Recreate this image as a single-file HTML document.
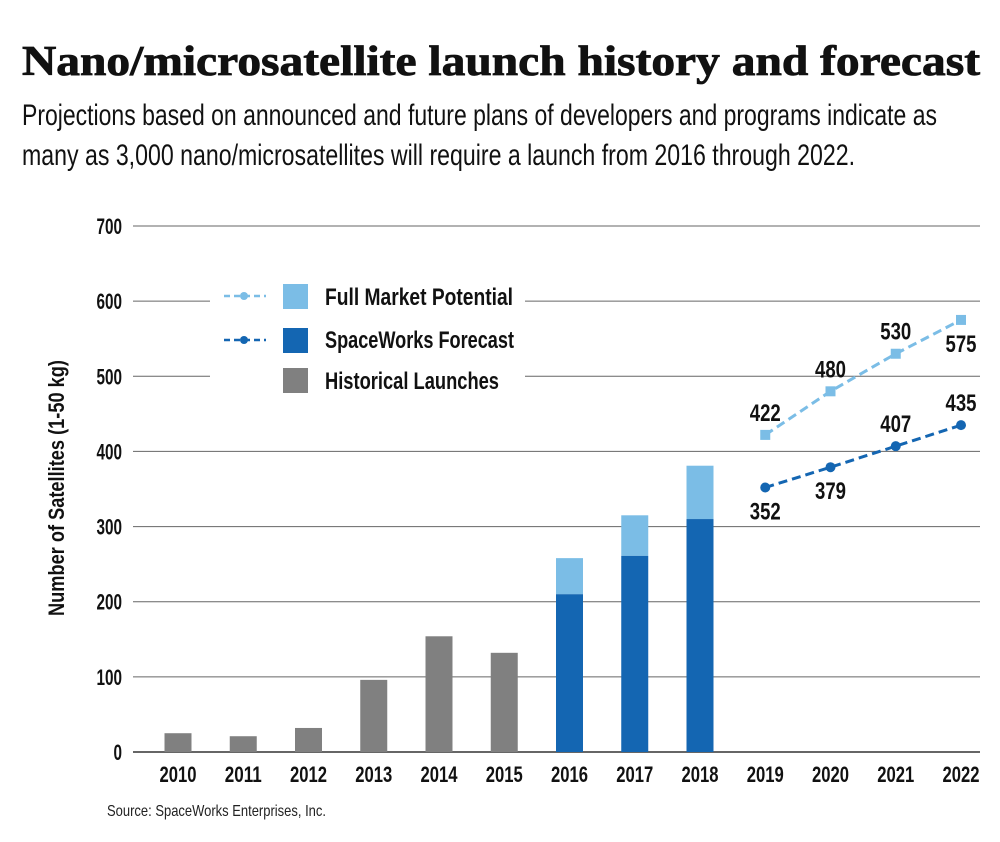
<!DOCTYPE html>
<html><head><meta charset="utf-8"><style>
html,body{margin:0;padding:0;background:#fff;}
svg{display:block;}
.c{font-family:"Liberation Sans Narrow","Liberation Sans",sans-serif;}
</style></head><body>
<svg id="chart" width="1000" height="842" viewBox="0 0 1000 842">
<text x="22" y="75" font-family="'Liberation Serif',serif" font-weight="bold" font-size="42" textLength="958" lengthAdjust="spacingAndGlyphs" fill="#111" stroke="#111" stroke-width="0.8">Nano/microsatellite launch history and forecast</text>
<text class="c" x="22" y="125" font-size="30" textLength="915" lengthAdjust="spacingAndGlyphs" fill="#111">Projections based on announced and future plans of developers and programs indicate as</text>
<text class="c" x="22" y="165" font-size="30" textLength="833" lengthAdjust="spacingAndGlyphs" fill="#111">many as 3,000 nano/microsatellites will require a launch from 2016 through 2022.</text>
<g id="grid"></g>
<g id="bars"></g>
<g id="lines"></g>
<rect x="210" y="280" width="315" height="115" fill="#fff"/>
<g class="c" font-weight="bold" font-size="24" fill="#111">
 <g>
  <line x1="224" y1="296" x2="266" y2="296" stroke="#7bbde6" stroke-width="2.5" stroke-dasharray="6,4"/>
  <circle cx="244" cy="296" r="4" fill="#7bbde6"/>
  <rect x="283" y="284" width="25" height="25" fill="#7bbde6"/>
  <text x="325" y="305" textLength="188" lengthAdjust="spacingAndGlyphs">Full Market Potential</text>
 </g>
 <g>
  <line x1="224" y1="340" x2="266" y2="340" stroke="#1466b2" stroke-width="2.5" stroke-dasharray="6,4"/>
  <circle cx="244" cy="340" r="4" fill="#1466b2"/>
  <rect x="283" y="328" width="25" height="25" fill="#1466b2"/>
  <text x="325" y="348" textLength="189" lengthAdjust="spacingAndGlyphs">SpaceWorks Forecast</text>
 </g>
 <g>
  <rect x="283" y="368" width="25" height="25" fill="#808080"/>
  <text x="325" y="389" textLength="174" lengthAdjust="spacingAndGlyphs">Historical Launches</text>
 </g>
</g>
<text class="c" font-weight="bold" font-size="22" fill="#111" transform="translate(64,488) rotate(-90)" text-anchor="middle" textLength="256" lengthAdjust="spacingAndGlyphs">Number of Satellites (1-50 kg)</text>
<text class="c" x="107" y="816" font-size="16" fill="#222" textLength="219" lengthAdjust="spacingAndGlyphs">Source: SpaceWorks Enterprises, Inc.</text>
</svg>
<script>
const years=['2010','2011','2012','2013','2014','2015','2016','2017','2018','2019','2020','2021','2022'];
const historical=[25,21,32,96,154,132,0,0,0,0,0,0,0];
const forecastBars=[0,0,0,0,0,0,210,261,310,0,0,0,0];
const potentialBars=[0,0,0,0,0,0,258,315,381,0,0,0,0];
const lineYears=['2019','2020','2021','2022'];
const fullMarket=[422,480,530,575];
const spaceWorks=[352,379,407,435];
const yTicks=[0,100,200,300,400,500,600,700];
const NS='http://www.w3.org/2000/svg';
const y0=752,yScale=526/700;
function Y(v){return y0-v*yScale;}
function X(yr){return 178+years.indexOf(yr)*65.25;}
function mk(t,a,p){const e=document.createElementNS(NS,t);for(const k in a)e.setAttribute(k,a[k]);p.appendChild(e);return e;}
const grid=document.getElementById('grid'),bars=document.getElementById('bars'),lines=document.getElementById('lines');
yTicks.forEach(v=>{
 const l=mk('line',{x1:133,x2:980,y1:Y(v),y2:Y(v),stroke:v===0?'#333':'#666','stroke-width':v===0?1.5:1},grid);
 
 
 const tl=String(v).length*8.5;
 const t=mk('text',{x:122,y:Y(v)+8,'text-anchor':'end','class':'c','font-weight':'bold','font-size':22,fill:'#111',textLength:tl,lengthAdjust:'spacingAndGlyphs'},grid);
 t.textContent=v;
 
 
});
years.forEach((yr,i)=>{
 const x=X(yr),w=27;
 if(historical[i]>0){const r=mk('rect',{x:x-w/2,y:Y(historical[i]),width:w,height:y0-Y(historical[i]),fill:'#808080'},bars);
  
  }
 if(potentialBars[i]>0){const r=mk('rect',{x:x-w/2,y:Y(potentialBars[i]),width:w,height:Y(forecastBars[i])-Y(potentialBars[i]),fill:'#7bbde6'},bars);
  
  }
 if(forecastBars[i]>0){const r=mk('rect',{x:x-w/2,y:Y(forecastBars[i]),width:w,height:y0-Y(forecastBars[i]),fill:'#1466b2'},bars);
  
  }
 const t=mk('text',{x:x,y:782,'text-anchor':'middle','class':'c','font-weight':'bold','font-size':22,fill:'#111',textLength:37,lengthAdjust:'spacingAndGlyphs'},bars);
 t.textContent=yr;
 
 
});
function series(vals,color,name,square,labelPos){
 const pts=vals.map((v,i)=>X(lineYears[i])+','+Y(v)).join(' ');
 const pl=mk('polyline',{points:pts,fill:'none',stroke:color,'stroke-width':3,'stroke-dasharray':'9,5'},lines);
 
 
 vals.forEach((v,i)=>{
  const x=X(lineYears[i]),y=Y(v);
  const m=square?mk('rect',{x:x-5,y:y-5,width:10,height:10,fill:color},lines):mk('circle',{cx:x,cy:y,r:5,fill:color},lines);
  
  
  const off=labelPos[i]==='a'?-14:32;
  const t=mk('text',{x:x,y:y+off,'text-anchor':'middle','class':'c','font-weight':'bold','font-size':24,fill:'#111',textLength:31,lengthAdjust:'spacingAndGlyphs'},lines);
  t.textContent=v;
  
  
 });
}
series(fullMarket,'#7bbde6','full-market',true,['a','a','a','b']);
series(spaceWorks,'#1466b2','spaceworks',false,['b','b','a','a']);
</script>
</body></html>
